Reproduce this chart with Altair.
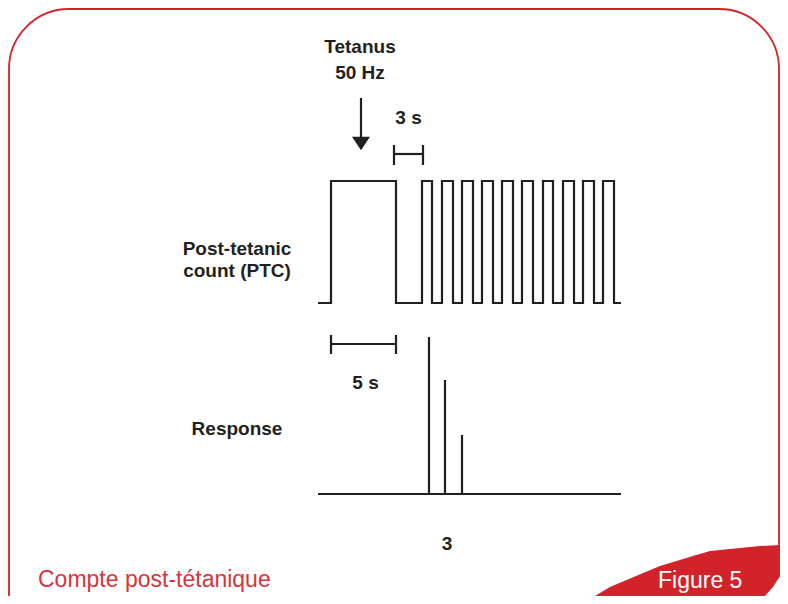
import altair as alt
import pandas as pd

# ---- canvas (data units = reference pixel positions) ----
W, H = 772, 588
X0, Y0 = 8, 8

DARK = "#231f20"
RED = "#d2232a"

# ---- PTC stimulus trace ----
ptc_base, ptc_high = 303, 181
trace_start, trace_end = 318, 621
tetanus_on, tetanus_off = 331, 396
pulse_on = [422, 442, 462, 482, 502, 522, 543, 563, 583, 603]
pulse_off = [432, 453, 473, 493, 513, 533, 553, 574, 594, 614]

# ---- response ----
resp_base = 494
spike_x = [429, 445, 462]
spike_top = [337, 380, 435]

# ---- scale bars ----
bar3_x = [394, 423]
bar3_y = 154
bar3_tick = [145, 165]
bar5_x = [331, 396]
bar5_y = 344
bar5_tick = [335, 354]

# ---- arrow ----
arrow_x = 361
arrow_top, arrow_head = 98, 143.5

# ---- labels ----
bold_text = ["Tetanus", "50 Hz", "3 s", "Post-tetanic", "count (PTC)", "Response", "5 s", "3"]
bold_x = [360, 360, 408.5, 237, 237, 237, 365.5, 447]
bold_y = [53, 79, 124, 255, 277, 435, 389, 550]

# ---- frame and corner tab ----
frame_x = [9, 779]
frame_y = [9, 700]
tab_y = [545, 546, 551, 556, 566, 576, 587, 596, 604]
tab_xl = [780, 760, 710, 693, 660, 636, 610, 595, 582]
tab_xr = [781, 781, 781, 781, 781, 780, 773, 765, 753]

xs = alt.Scale(domain=[X0, X0 + W])
ys = alt.Scale(domain=[Y0, Y0 + H], reverse=True)


def X(f):
    return alt.X(f, type="quantitative", scale=xs, axis=None)


def Y(f):
    return alt.Y(f, type="quantitative", scale=ys, axis=None)


# frame
frame_df = pd.DataFrame({"x": [frame_x[0]], "x2": [frame_x[1]], "y": [frame_y[0]], "y2": [frame_y[1]]})
frame = alt.Chart(frame_df).mark_rect(
    fill="transparent", stroke=RED, strokeWidth=1.8,
    cornerRadiusTopLeft=60, cornerRadiusTopRight=60, clip=True
).encode(x=X("x"), x2="x2", y=Y("y"), y2="y2")

tab_df = pd.DataFrame({"y": tab_y, "xl": tab_xl, "xr": tab_xr, "xe": [792] * len(tab_y)})
cover = alt.Chart(tab_df).mark_area(orient="horizontal", color="white", clip=True).encode(
    y=Y("y"), x=X("xr"), x2="xe"
)
tab = alt.Chart(tab_df).mark_area(orient="horizontal", color=RED, clip=True).encode(
    y=Y("y"), x=X("xl"), x2="xr"
)

# PTC trace
pts = [(trace_start, ptc_base), (tetanus_on, ptc_base), (tetanus_on, ptc_high),
       (tetanus_off, ptc_high), (tetanus_off, ptc_base)]
for a, b in zip(pulse_on, pulse_off):
    pts += [(a, ptc_base), (a, ptc_high), (b, ptc_high), (b, ptc_base)]
pts.append((trace_end, ptc_base))
trace_df = pd.DataFrame({"x": [p[0] for p in pts], "y": [p[1] for p in pts], "i": range(len(pts))})
trace = alt.Chart(trace_df).mark_line(color=DARK, strokeWidth=2.2, strokeJoin="miter").encode(
    x=X("x"), y=Y("y"), order="i:Q"
)

# rules: baselines, spikes, scale bars, arrow shaft
rx, rx2, ry, ry2 = [], [], [], []


def rule(x1, x2, y1, y2):
    rx.append(x1); rx2.append(x2); ry.append(y1); ry2.append(y2)


rule(trace_start, trace_end, resp_base, resp_base)
for sx, st in zip(spike_x, spike_top):
    rule(sx, sx, resp_base, st)
rule(bar3_x[0], bar3_x[1], bar3_y, bar3_y)
for bx in bar3_x:
    rule(bx, bx, bar3_tick[0], bar3_tick[1])
rule(bar5_x[0], bar5_x[1], bar5_y, bar5_y)
for bx in bar5_x:
    rule(bx, bx, bar5_tick[0], bar5_tick[1])
rule(arrow_x, arrow_x, arrow_top, arrow_head - 4)
rules_df = pd.DataFrame({"x": rx, "x2": rx2, "y": ry, "y2": ry2})
rules = alt.Chart(rules_df).mark_rule(color=DARK, strokeWidth=2.2).encode(
    x=X("x"), x2="x2", y=Y("y"), y2="y2"
)

head_df = pd.DataFrame({"x": [arrow_x], "y": [arrow_head]})
head = alt.Chart(head_df).mark_point(
    shape="M-1,-0.74L1,-0.74L0,0.74Z", filled=True, color=DARK, size=324, opacity=1, strokeWidth=0
).encode(x=X("x"), y=Y("y"))

bold_df = pd.DataFrame({"t": bold_text, "x": bold_x, "y": bold_y})
bold = alt.Chart(bold_df).mark_text(
    font="Liberation Sans", fontWeight="bold", fontSize=19, color=DARK,
    align="center", baseline="alphabetic"
).encode(x=X("x"), y=Y("y"), text="t:N")

foot_df = pd.DataFrame({"t": ["Compte post-tétanique", "Figure 5"], "x": [38, 658], "y": [587, 588],
                        "c": ["#d7333b", "#ffffff"]})
foot = alt.Chart(foot_df).mark_text(
    font="Liberation Sans", fontSize=23, align="left", baseline="alphabetic"
).encode(x=X("x"), y=Y("y"), text="t:N", color=alt.Color("c:N", scale=None))

chart = alt.layer(frame, cover, tab, trace, rules, head, bold, foot).properties(
    width=W, height=H, padding=0, autosize="none", background="white"
).configure_view(stroke=None)

chart.save("out.html", embed_options={"renderer": "svg", "actions": False})
